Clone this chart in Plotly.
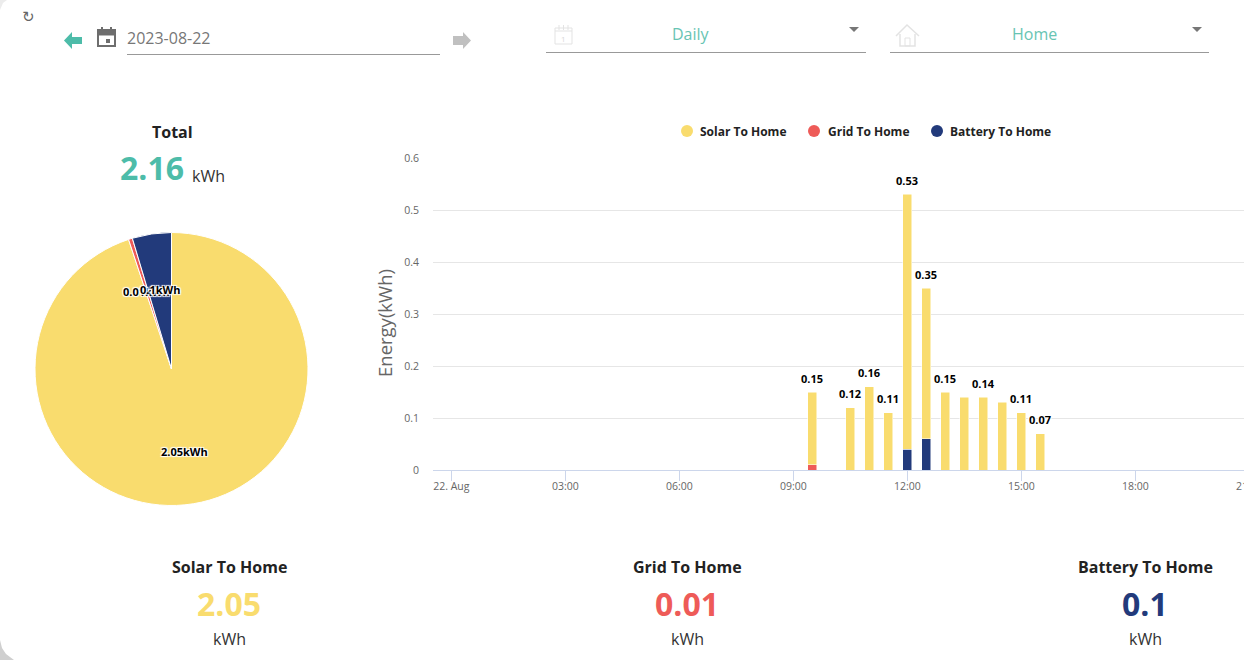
import plotly.graph_objects as go

# ---- data ----
TIMES = ["2023-08-22 09:30", "2023-08-22 10:30", "2023-08-22 11:00", "2023-08-22 11:30",
         "2023-08-22 12:00", "2023-08-22 12:30", "2023-08-22 13:00", "2023-08-22 13:30",
         "2023-08-22 14:00", "2023-08-22 14:30", "2023-08-22 15:00", "2023-08-22 15:30"]
SOLAR = [0.14, 0.12, 0.16, 0.11, 0.49, 0.29, 0.15, 0.14, 0.14, 0.13, 0.11, 0.07]
GRID = [0.01, None, None, None, None, None, None, None, None, None, None, None]
BATTERY = [None, None, None, None, 0.04, 0.06, None, None, None, None, None, None]
TOTALS = [0.15, 0.12, 0.16, 0.11, 0.53, 0.35, 0.15, 0.14, 0.14, 0.13, 0.11, 0.07]
# some labels are dropped in the original because they would collide
TOTAL_LABELS = ["0.15", "0.12", "0.16", "0.11", "0.53", "0.35", "0.15", "", "0.14", "", "0.11", "0.07"]

TICK_VALS = ["2023-08-22 00:00", "2023-08-22 03:00", "2023-08-22 06:00", "2023-08-22 09:00",
             "2023-08-22 12:00", "2023-08-22 15:00", "2023-08-22 18:00", "2023-08-22 21:00"]
TICK_TEXT = ["22. Aug", "03:00", "06:00", "09:00", "12:00", "15:00", "18:00", "21:00"]

PIE_NAMES = ["Solar To Home", "Grid To Home", "Battery To Home"]
PIE_VALUES = [2.05, 0.01, 0.1]

YELLOW = "#F9DC6E"
RED = "#EE5B58"
BLUE = "#223A7B"
TEAL = "#4DBCA9"
FONT = "Open Sans"
HALO = "1px 1px 1px #fff, -1px -1px 1px #fff, 1px -1px 1px #fff, -1px 1px 1px #fff"

# figure is wider than the window, the page clips it like the original
W, H = 1300, 660


def fx(x):
    return x / W


def fy(y):
    return 1 - y / H


annotations = []
shapes = []


def text(x, y, s, size=16, color="#222", bold=False, anchor="center", family=FONT, shadow=None, angle=0):
    font = dict(family=family, size=size, color=color, weight=700 if bold else 400)
    if shadow:
        font["shadow"] = shadow
    annotations.append(dict(x=fx(x), y=fy(y), xref="paper", yref="paper", text=s, showarrow=False,
                            xanchor=anchor, yanchor="middle", font=font, textangle=angle))


def path(d, fill=None, line=None, width=1):
    # d is written in page pixels, converted to paper here
    out = []
    toks = d.split()
    i = 0
    while i < len(toks):
        if toks[i] in "MLZ":
            out.append(toks[i])
            i += 1
        else:
            out.append(f"{fx(float(toks[i])):.5f},{fy(float(toks[i + 1])):.5f}")
            i += 2
    shapes.append(dict(type="path", xref="paper", yref="paper", path=" ".join(out),
                       fillcolor=fill or "rgba(0,0,0,0)",
                       line=dict(color=line or "rgba(0,0,0,0)", width=width if line else 0)))


def hline(x0, x1, y, color="#999", width=1):
    shapes.append(dict(type="line", xref="paper", yref="paper", x0=fx(x0), x1=fx(x1), y0=fy(y), y1=fy(y),
                       line=dict(color=color, width=width)))


def dot(cx, cy, r, color):
    shapes.append(dict(type="circle", xref="paper", yref="paper", x0=fx(cx - r), x1=fx(cx + r),
                       y0=fy(cy - r), y1=fy(cy + r), fillcolor=color, line=dict(width=0)))


# ---- header controls ----
text(28, 17, "↻", size=15, color="#666", family="DejaVu Sans")
path("M 64 40.5 L 72 32 L 72 37 L 82 37 L 82 44 L 72 44 L 72 49 Z", fill=TEAL)
path("M 453 36 L 463 36 L 463 32 L 471 40.5 L 463 49 L 463 45 L 453 45 Z", fill="#C0C0C0")
path("M 98 30 L 115 30 L 115 46 L 98 46 Z", line="#6e6e6e", width=2)
path("M 98 30 L 115 30 L 115 35 L 98 35 Z", fill="#6e6e6e", line="#6e6e6e", width=1)
path("M 102 27 L 102 30", line="#6e6e6e", width=2)
path("M 111 27 L 111 30", line="#6e6e6e", width=2)
path("M 106 39 L 110 39 L 110 43 L 106 43 Z", fill="#6e6e6e")
text(125, 38, "2023-08-22", size=16, color="#777", anchor="left")
hline(127, 440, 54.5)

path("M 555 28 L 572 28 L 572 44 L 555 44 Z", line="#e3e3e3", width=1)
path("M 555 31 L 572 31", line="#e3e3e3", width=1)
path("M 559 25 L 559 30", line="#e3e3e3", width=1)
path("M 563.5 25 L 563.5 30", line="#e3e3e3", width=1)
path("M 568 25 L 568 30", line="#e3e3e3", width=1)
text(563.5, 38, "1", size=8, color="#d8d8d8")
text(691, 34, "Daily", size=16, color="#68C4B3")
path("M 849 27 L 859 27 L 854 32 Z", fill="#777")
hline(546, 866, 52.5)

path("M 896 36 L 907 25 L 919 36", line="#e3e3e3", width=1.5)
path("M 900 34 L 900 46 L 915 46 L 915 34", line="#e3e3e3", width=1.5)
path("M 905 38 L 910 38 L 910 46 L 905 46 Z", line="#e3e3e3", width=1)
text(1034, 34, "Home", size=16, color="#68C4B3")
path("M 1192 27 L 1202 27 L 1197 32 Z", fill="#777")
hline(890, 1209, 52.5)

# ---- pie header and footer stats ----
text(172, 132, "Total", size=16, bold=True)
text(152, 168, "2.16", size=32, color=TEAL, bold=True)
text(208, 176, "kWh", size=16, color="#333")

stat_x = [229, 687, 1145]
stat_vals = ["2.05", "0.01", "0.1"]
for sx, name, val, col in zip(stat_x, PIE_NAMES, stat_vals, [YELLOW, RED, BLUE]):
    text(sx, 567, name, size=16, bold=True)
    text(sx, 603, val, size=32, color=col, bold=True)
    text(sx, 639, "kWh", size=16, color="#333")

# ---- legend ----
for cx, tx, name, col in zip([687, 814, 937], [697.5, 825.5, 947.5], PIE_NAMES, [YELLOW, RED, BLUE]):
    dot(cx, 131, 6, col)
    text(tx, 131, name, size=12, bold=True, anchor="left")

# pie labels, the two small ones overlap in the original
text(184, 451, "2.05kWh", size=11, bold=True, color="#000", shadow=HALO)
text(146, 291, "0.01kWh", size=11, bold=True, color="#000", shadow=HALO)
text(159.5, 289.5, "0.1kWh", size=11, bold=True, color="#000", shadow=HALO)

# y axis title, sits lower than the plot middle in the original
text(384, 323, "Energy(kWh)", size=18.5, color="#666", angle=-90)

# window corners
path("M 0 0 L 7 0 L 3 3 L 0 10 Z", fill="#ececec")
path("M 0 640 L 2 648 L 6 654 L 14 660 L 0 660 Z", fill="#cfcfcf")

# stack labels above each bar
for t, total, label in zip(TIMES, TOTALS, TOTAL_LABELS):
    if label:
        annotations.append(dict(x=t, y=total, xref="x", yref="y", text=label, showarrow=False, yshift=14,
                                xanchor="center", yanchor="middle",
                                font=dict(family=FONT, size=11, color="#000", weight=700, shadow=HALO)))

fig = go.Figure()

fig.add_trace(go.Pie(
    labels=PIE_NAMES, values=PIE_VALUES, sort=False, direction="clockwise", rotation=0,
    marker=dict(colors=[YELLOW, RED, BLUE], line=dict(color="#fff", width=1)),
    textinfo="none", showlegend=False,
    domain=dict(x=[fx(35), fx(308)], y=[fy(506), fy(232)]),
))

BAR_W = 14.5 * 60 * 1000
for name, vals, col in [("Battery To Home", BATTERY, BLUE), ("Grid To Home", GRID, RED), ("Solar To Home", SOLAR, YELLOW)]:
    fig.add_trace(go.Bar(x=TIMES, y=vals, name=name, width=BAR_W, showlegend=False,
                         marker=dict(color=col, line=dict(color="#fff", width=0.5))))

fig.update_layout(
    width=W, height=H, margin=dict(l=0, r=0, t=0, b=0, autoexpand=False), barmode="stack",
    paper_bgcolor="#fff", plot_bgcolor="#fff", font=dict(family=FONT),
    shapes=shapes, annotations=annotations,
    xaxis=dict(type="date", domain=[fx(433), 1], range=["2023-08-21 23:31:06", "2023-08-22 22:20:00"],
               tickmode="array", tickvals=TICK_VALS, ticktext=TICK_TEXT, ticks="outside", ticklen=10,
               ticklabelstandoff=-4,
               tickcolor="#ccd6eb", tickwidth=1, showline=True, linecolor="#ccd6eb", linewidth=1,
               showgrid=False, zeroline=False, tickfont=dict(family=FONT, size=10.5, color="#666")),
    yaxis=dict(domain=[fy(470), fy(158)], range=[0, 0.6], tickvals=[0, 0.1, 0.2, 0.3, 0.4, 0.5, 0.6],
               ticktext=["0", "0.1", "0.2", "0.3", "0.4", "0.5", "0.6"], gridcolor="#e6e6e6", gridwidth=1,
               zeroline=False, ticklabelstandoff=13, tickfont=dict(family=FONT, size=10.5, color="#666")),
)

fig.write_html("out.html", config=dict(displayModeBar=False),
               post_script="document.body.style.margin='0';document.documentElement.style.overflow='hidden';")
